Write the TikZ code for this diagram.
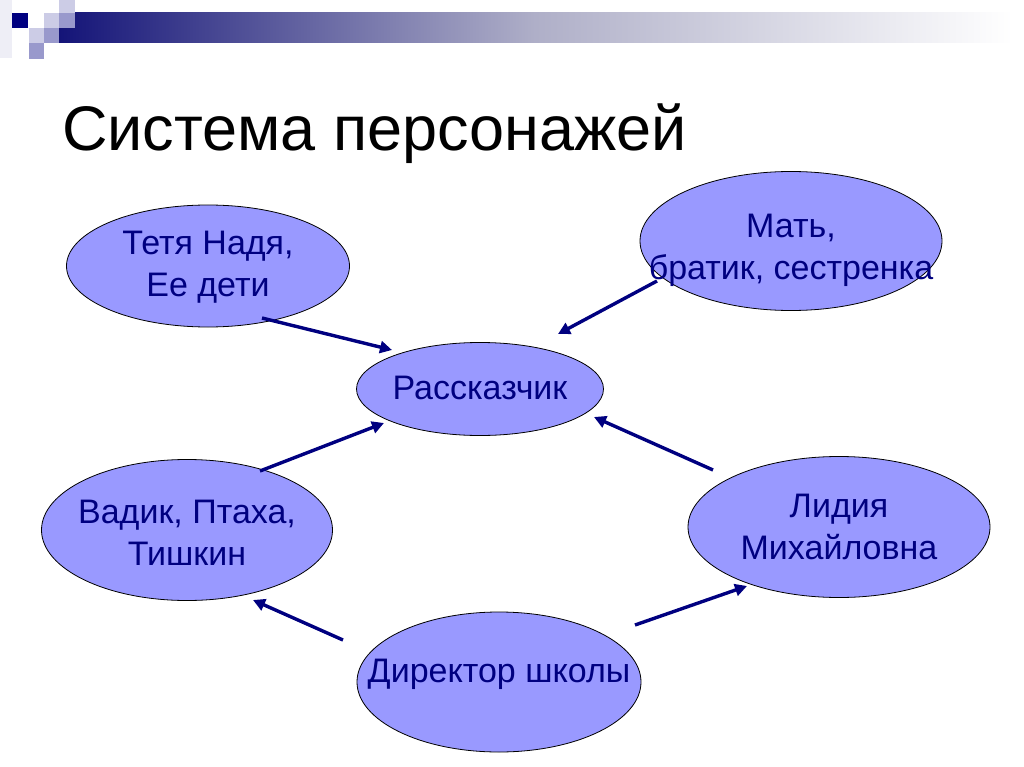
\documentclass[tikz,border=0pt]{standalone}
\usepackage{fontspec}
\setmainfont{Liberation Sans}
\usetikzlibrary{shapes.geometric,arrows.meta}
\definecolor{navytxt}{HTML}{000080}
\definecolor{bubfill}{HTML}{9999FF}
\definecolor{sqdark}{HTML}{000080}
\definecolor{sqmid}{HTML}{9999CC}
\definecolor{sqlight}{HTML}{CCCCE6}
\definecolor{sqfaint}{HTML}{EEEEF6}
\tikzset{
  bub/.style={ellipse, draw=black, line width=0.8pt, fill=bubfill, inner sep=0pt},
  txt/.style={align=center, text=navytxt, font=\fontsize{34}{42}\selectfont},
  conn/.style={draw=navytxt, line width=3.4pt, -{Triangle[length=12pt,width=12pt]}},
}
\begin{document}
\begin{tikzpicture}[x=1pt,y=-1pt]
\useasboundingbox[fill=white] (0,0) rectangle (1024,767);
% header decoration
\shade[left color={rgb,255:red,20;green,20;blue,120}, right color=white, middle color={rgb,255:red,175;green,175;blue,200}] (59,13) rectangle (1012,43);
\fill[sqfaint] (0,0) rectangle (12,58);
\fill[sqdark] (12,13) rectangle (28,28);
\fill[sqlight] (44,13) rectangle (59,28);
\fill[sqlight] (59,0) rectangle (75,13);
\fill[sqmid] (59,13) rectangle (75,28);
\fill[sqlight] (29,28) rectangle (44,43);
\fill[sqmid] (44,28) rectangle (59,43);
\fill[sqmid] (29,43) rectangle (44,59);
% title
\node[anchor=base west, inner sep=0pt, font=\fontsize{63}{70}\selectfont] (title) at (62,151) {Система персонажей};
% ellipses
\node[bub, minimum width=283pt, minimum height=122pt] (t) at (208,266) {};
\node[bub, minimum width=302pt, minimum height=139pt] (m) at (791,241) {};
\node[bub, minimum width=247pt, minimum height=93pt] (r) at (480,389) {};
\node[bub, minimum width=291pt, minimum height=141pt] (v) at (187,530) {};
\node[bub, minimum width=302pt, minimum height=141pt] (l) at (839,527) {};
\node[bub, minimum width=284pt, minimum height=140pt] (d) at (499,682) {};
% texts
\node[txt] (tt) at (208,267) {Тетя Надя,\\Ее дети};
\node[txt] (mt) at (791,250) {Мать,\\братик, сестренка};
\node[txt] (rt) at (480,388) {Рассказчик};
\node[txt] (vt) at (187,533) {Вадик, Птаха,\\Тишкин};
\node[txt] (lt) at (839,527) {Лидия\\Михайловна};
\node[txt] (dt) at (499,674) {Директор школы};
% connector end points
\coordinate (t1) at (262,318); \coordinate (r1) at (392,350);
\coordinate (m1) at (657,281); \coordinate (r2) at (558,334);
\coordinate (v1) at (260,471); \coordinate (r3) at (384,423);
\coordinate (l1) at (713,470); \coordinate (r4) at (594,417);
\coordinate (d1) at (343,640); \coordinate (v2) at (253,600);
\coordinate (d2) at (635,625); \coordinate (l2) at (747,586);
\draw[conn] (t1) -- (r1);
\draw[conn] (m1) -- (r2);
\draw[conn] (v1) -- (r3);
\draw[conn] (l1) -- (r4);
\draw[conn] (d1) -- (v2);
\draw[conn] (d2) -- (l2);
\end{tikzpicture}
\end{document}
